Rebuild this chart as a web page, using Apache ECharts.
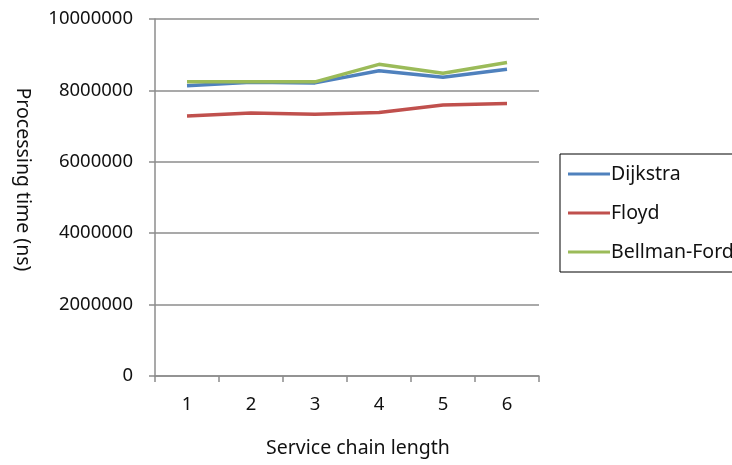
<!DOCTYPE html>
<html>
<head>
<meta charset="utf-8">
<script src="https://cdn.jsdelivr.net/npm/echarts@6/dist/echarts.min.js"></script>
<style>
html,body{margin:0;padding:0;background:#fff;}
#chart{width:732px;height:465px;}
</style>
</head>
<body>
<div id="chart"></div>
<script>
const categories = ['1', '2', '3', '4', '5', '6'];
const dijkstra = [8130000, 8230000, 8210000, 8550000, 8370000, 8590000];
const floyd = [7280000, 7370000, 7330000, 7380000, 7590000, 7630000];
const bellmanFord = [8240000, 8240000, 8240000, 8730000, 8480000, 8780000];
const yTicks = [0, 2000000, 4000000, 6000000, 8000000, 10000000];

const FONT = '"Noto Sans", sans-serif';
const chart = echarts.init(document.getElementById('chart'));
const axisGray = '#8c8c8c';
chart.setOption({
  animation: false,
  textStyle: { fontFamily: FONT },
  grid: { left: 155, right: 193, top: 19, bottom: 89 },
  legend: {
    orient: 'vertical',
    left: 560, top: 154,
    icon: 'rect',
    itemWidth: 42, itemHeight: 3,
    itemGap: 19,
    padding: [10, 60, 10, 8],
    borderColor: '#000', borderWidth: 1,
    textStyle: { fontSize: 19.5, color: '#111', fontFamily: FONT, padding: [0, 0, 0, -4] },
    data: ['Dijkstra', 'Floyd', 'Bellman-Ford']
  },
  xAxis: {
    type: 'category',
    data: categories,
    boundaryGap: true,
    name: 'Service chain length',
    nameLocation: 'middle',
    nameGap: 62,
    nameTextStyle: { fontSize: 19.5, color: '#111', fontFamily: FONT, padding: [0, 0, 0, 22] },
    axisLine: { lineStyle: { color: axisGray, width: 1.5 } },
    axisTick: { show: true, alignWithLabel: false, length: 6, lineStyle: { color: axisGray, width: 1.5 } },
    axisLabel: { fontSize: 18.5, color: '#111', margin: 19, fontFamily: FONT },
    splitLine: { show: false }
  },
  yAxis: {
    type: 'value',
    min: yTicks[0], max: yTicks[yTicks.length - 1], interval: 2000000,
    name: 'Processing time (ns)',
    nameLocation: 'middle',
    nameGap: 122,
    nameRotate: -90,
    nameTextStyle: { fontSize: 19.5, color: '#111', fontFamily: FONT, padding: [0, 36, 0, 0] },
    axisLine: { show: true, lineStyle: { color: axisGray, width: 1.5 } },
    axisTick: { show: true, length: 6, lineStyle: { color: axisGray, width: 1.5 } },
    axisLabel: { fontSize: 18.5, color: '#111', margin: 22, fontFamily: FONT, formatter: v => String(v) },
    splitLine: { show: true, lineStyle: { color: axisGray, width: 1.5 } }
  },
  series: [
    { name: 'Dijkstra', type: 'line', data: dijkstra, symbol: 'none', color: '#4F81BD', lineStyle: { width: 3.5, color: '#4F81BD' } },
    { name: 'Floyd', type: 'line', data: floyd, symbol: 'none', color: '#C0504D', lineStyle: { width: 3.5, color: '#C0504D' } },
    { name: 'Bellman-Ford', type: 'line', data: bellmanFord, symbol: 'none', color: '#9BBB59', lineStyle: { width: 3.5, color: '#9BBB59' } }
  ]
});
</script>
</body>
</html>
